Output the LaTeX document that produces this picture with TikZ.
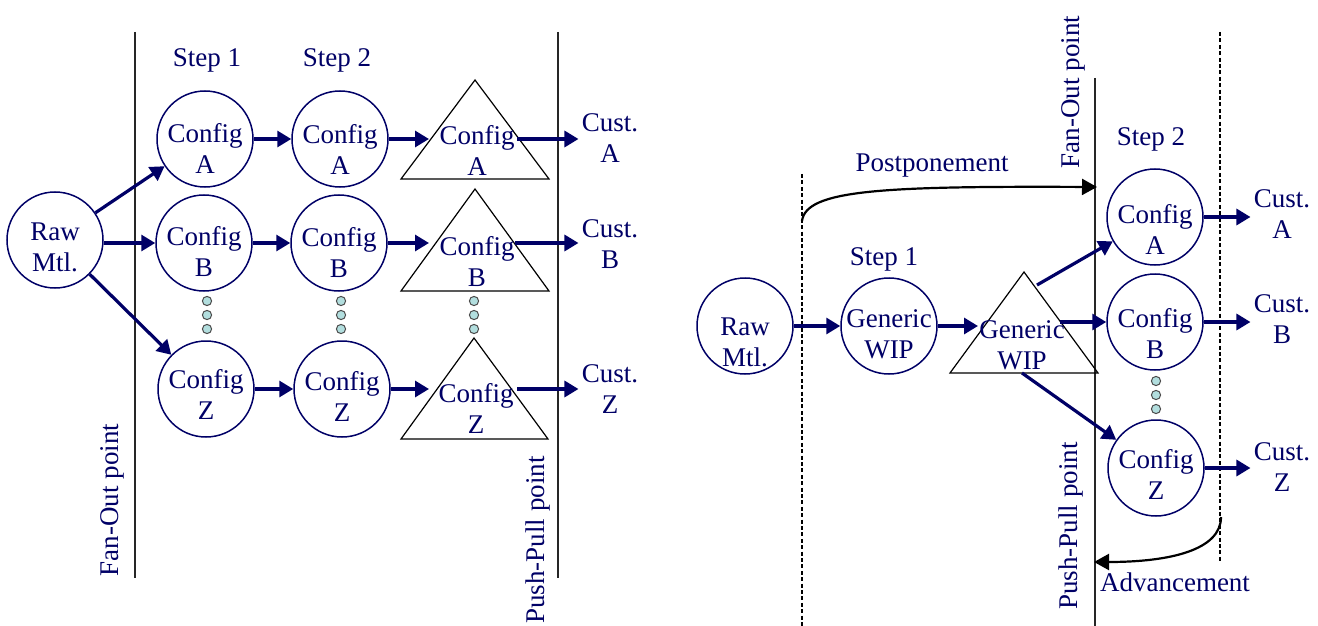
\documentclass[tikz,border=0pt]{standalone}
\usepackage{fontspec}
\setmainfont{Liberation Serif}
\usetikzlibrary{arrows.meta}
\definecolor{nv}{RGB}{0,0,102}
\definecolor{dotfill}{RGB}{178,222,222}
\begin{document}
\begin{tikzpicture}[x=0.5pt,y=-0.5pt,
 every node/.style={font=\fontsize{13.5}{15.5}\selectfont, text=nv},
 circ/.style={circle, draw=nv, line width=0.75pt, minimum size=48pt, inner sep=0pt},
 lbl/.style={align=center, inner sep=0pt},
 cust/.style={align=center, inner sep=1.5pt},
 arr/.style={draw=nv, line width=1.6pt, -{Triangle[length=7pt,width=8pt]}},
 tri/.style={draw=black, line width=0.6pt},
 vline/.style={draw=black!85, line width=0.8pt},
 dashln/.style={draw=black, line width=1pt, dash pattern=on 2pt off 1.2pt},
 dotc/.style={circle, draw=black!70, fill=dotfill, line width=0.5pt, minimum size=4.6pt, inner sep=0pt},
 bendarr/.style={draw=black, line width=1.1pt, -{Triangle[length=7.5pt,width=8pt]}},
 vlab/.style={rotate=90, inner sep=0pt}
]
\useasboundingbox (0,0) rectangle (1318,626);

% ================= LEFT DIAGRAM =================
\draw[vline] (135,32) -- (135,578);
\draw[vline] (558,32) -- (558,578);
\node[vlab] (fanL) at (112,500) {Fan-Out point};
\node[vlab] (ppL) at (538,540) {Push-Pull point};

\node (s1L) at (207,60) {Step 1};
\node (s2L) at (337,60) {Step 2};

\node[circ] (rawL) at (55,240) {};
\node[lbl] (rawLt) at (55,247) {Raw\\Mtl.};

\node[circ] (c1A) at (205,139) {};
\node[lbl] (c1At) at (205,148) {Config\\A};
\node[circ] (c1B) at (204,243) {};
\node[lbl] (c1Bt) at (204,252) {Config\\B};
\node[circ] (c1Z) at (206,389) {};
\node[lbl] (c1Zt) at (206,394) {Config\\Z};

\node[circ] (c2A) at (340,139) {};
\node[lbl] (c2At) at (340,149) {Config\\A};
\node[circ] (c2B) at (339,243) {};
\node[lbl] (c2Bt) at (339,253) {Config\\B};
\node[circ] (c2Z) at (342,389) {};
\node[lbl] (c2Zt) at (342,396) {Config\\Z};

% triangles
\draw[tri] (401,179) -- (475,80) -- (549,179) -- cycle;
\draw[tri] (401,291) -- (475,189) -- (549,291) -- cycle;
\draw[tri] (401,439) -- (474,338) -- (548,439) -- cycle;
\node[lbl] (tAt) at (477,150) {Config\\A};
\node[lbl] (tBt) at (477,262) {Config\\B};
\node[lbl] (tZt) at (476,408) {Config\\Z};
\coordinate (tAi) at (429,139);
\coordinate (tBi) at (429,243);
\coordinate (tZi) at (429,389);
\coordinate (tAo) at (517,139);
\coordinate (tBo) at (515,243);
\coordinate (tZo) at (517,389);

\node[cust] (custLA) at (610,138) {Cust.\\A};
\node[cust] (custLB) at (610,244) {Cust.\\B};
\node[cust] (custLZ) at (610,389) {Cust.\\Z};

% dots
\foreach \x/\n in {207/a,341/b,474/c}{
  \node[dotc] (d\n1) at (\x,301) {};
  \node[dotc] (d\n2) at (\x,315) {};
  \node[dotc] (d\n3) at (\x,329) {};
}

% arrows
\draw[arr] (rawL) -- (c1A);
\draw[arr] (rawL.east |- c1B) -- (c1B);
\draw[arr] (rawL) -- (c1Z);
\draw[arr] (c1A) -- (c2A);
\draw[arr] (c1B) -- (c2B);
\draw[arr] (c1Z) -- (c2Z);
\draw[arr] (c2A) -- (tAi);
\draw[arr] (c2B) -- (tBi);
\draw[arr] (c2Z) -- (tZi);
\draw[arr] (tAo) -- (tAo -| custLA.west);
\draw[arr] (tBo) -- (tBo -| custLB.west);
\draw[arr] (tZo) -- (tZo -| custLZ.west);

% ================= RIGHT DIAGRAM =================
\draw[dashln] (802,174) -- (802,626);
\draw[vline] (1095,78) -- (1095,626);
\draw[dashln] (1220,32) -- (1220,563);
\node[vlab] (fanR) at (1073,92) {Fan-Out point};
\node[vlab] (ppR) at (1071,526) {Push-Pull point};

\coordinate (ppS) at (802,221);
\coordinate (ppE) at (1097,187);
\draw[bendarr] (ppS) .. controls (806,190) and (880,186) .. (ppE);
\node (postp) at (932,166) {Postponement};

\coordinate (adS) at (1221,517);
\coordinate (adE) at (1094,562);
\draw[bendarr] (adS) .. controls (1221,550) and (1170,562) .. (adE);
\node (adv) at (1175,582) {Advancement};

\node (s1R) at (884,259) {Step 1};
\node (s2R) at (1151,139) {Step 2};

\node[circ] (rawR) at (745,326) {};
\node[lbl] (rawRt) at (745,342) {Raw\\Mtl.};
\node[circ] (genC) at (889,326) {};
\node[lbl] (genCt) at (889,334) {Generic\\WIP};

\draw[tri] (950,373) -- (1024,272) -- (1098,373) -- cycle;
\node[lbl] (genTt) at (1022,345) {Generic\\WIP};
\coordinate (gTi) at (978,326);
\coordinate (gTa) at (1037,285);
\coordinate (gTb) at (1060,322);
\coordinate (gTz) at (1022,373);

\node[circ] (rA) at (1155,217) {};
\node[lbl] (rAt) at (1155,229) {Config\\A};
\node[circ] (rB) at (1155,322) {};
\node[lbl] (rBt) at (1155,334) {Config\\B};
\node[circ] (rZ) at (1156,468) {};
\node[lbl] (rZt) at (1156,474) {Config\\Z};

\node[dotc] (dr1) at (1156,381) {};
\node[dotc] (dr2) at (1156,395) {};
\node[dotc] (dr3) at (1156,409) {};

\node[cust] (custRA) at (1282,214) {Cust.\\A};
\node[cust] (custRB) at (1282,319) {Cust.\\B};
\node[cust] (custRZ) at (1282,467) {Cust.\\Z};

\draw[arr] (rawR) -- (genC);
\draw[arr] (genC) -- (gTi);
\draw[arr] (gTa) -- (rA);
\draw[arr] (gTb) -- (rB);
\draw[arr] (gTz) -- (rZ);
\draw[arr] (rA) -- (rA -| custRA.west);
\draw[arr] (rB) -- (rB -| custRB.west);
\draw[arr] (rZ) -- (rZ -| custRZ.west);
\end{tikzpicture}
\end{document}
